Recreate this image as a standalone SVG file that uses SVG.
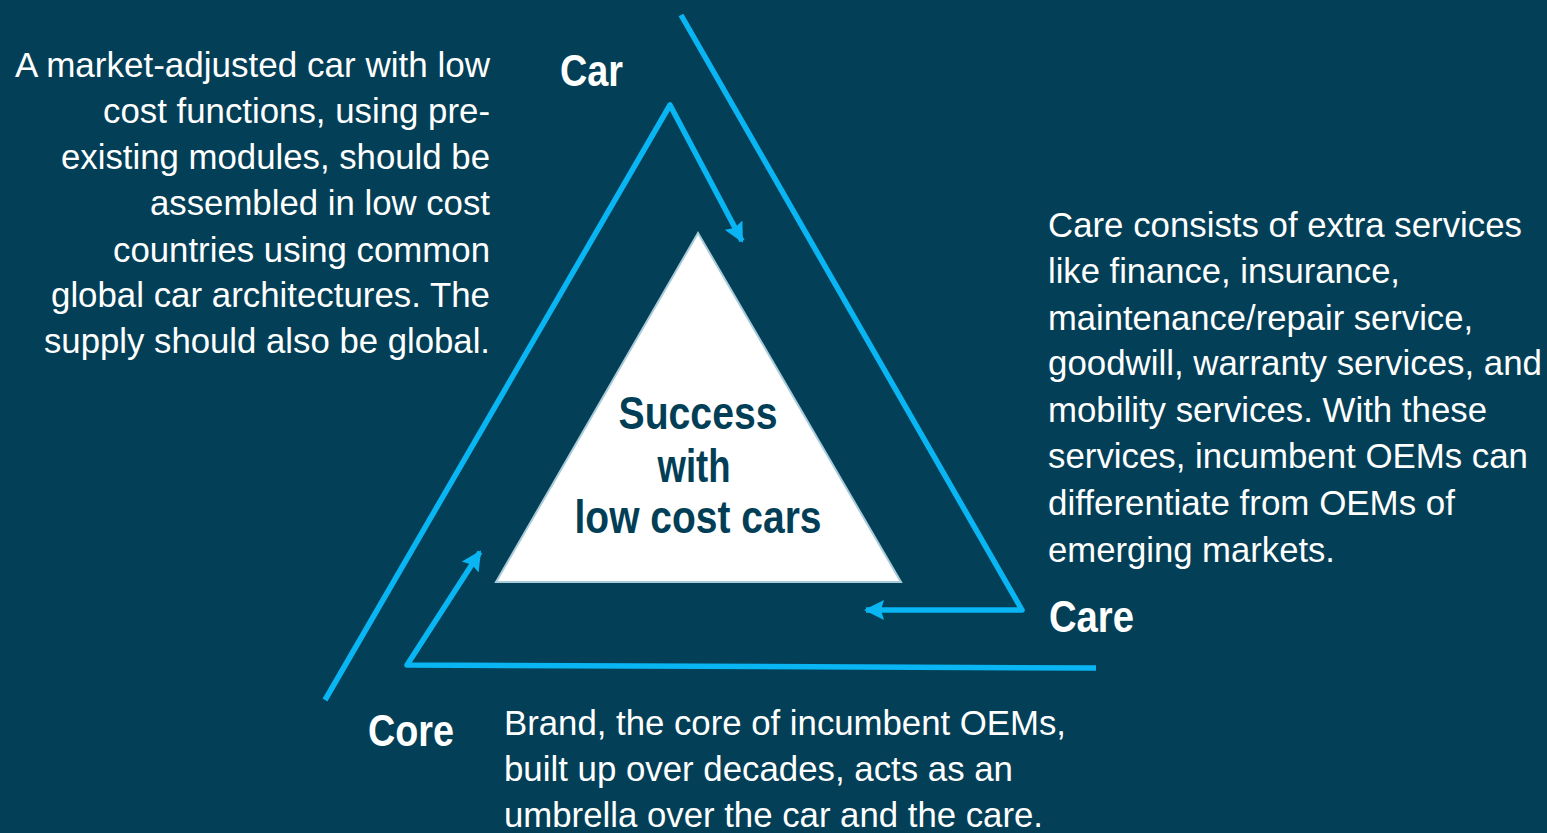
<svg xmlns="http://www.w3.org/2000/svg" width="1547" height="833" viewBox="0 0 1547 833">
  <style>
    .body { font-family: "Liberation Sans", Arial, sans-serif; font-size: 35px; fill: #ffffff; }
    .label { font-family: "Liberation Sans Narrow", "Liberation Sans", Arial, sans-serif; font-size: 45px; font-weight: bold; fill: #ffffff; }
    .center { font-family: "Liberation Sans Narrow", "Liberation Sans", Arial, sans-serif; font-size: 47px; font-weight: bold; fill: #023f57; text-anchor: middle; }
    .conn { fill: none; stroke: #09b5f2; stroke-width: 5.5; stroke-linejoin: round; stroke-linecap: butt; }
  </style>
  <defs>
    <marker id="arrow" viewBox="0 0 20 20" refX="18" refY="10" markerWidth="20" markerHeight="20" markerUnits="userSpaceOnUse" orient="auto">
      <path d="M0,0 L20,10 L0,20 L3,10 z" fill="#09b5f2"/>
    </marker>
  </defs>
  <rect x="0" y="0" width="1547" height="833" fill="#034057"/>

  <g id="connectors">
    <path class="conn" d="M681,15 L1022,610 L866,610" marker-end="url(#arrow)"/>
    <path class="conn" d="M325,700 L670,105 L742,241" marker-end="url(#arrow)"/>
    <path class="conn" d="M1096,668 L407,665 L480,552" marker-end="url(#arrow)"/>
  </g>

  <g id="center-node">
    <polygon points="698,233 496,582 901,582" fill="#ffffff" stroke="#a9cbd9" stroke-width="2"/>
    <text class="center" x="698" y="429" textLength="159" lengthAdjust="spacingAndGlyphs">Success</text>
    <text class="center" x="694" y="482" textLength="73" lengthAdjust="spacingAndGlyphs">with</text>
    <text class="center" x="698" y="533" textLength="247" lengthAdjust="spacingAndGlyphs">low cost cars</text>
  </g>

  <g id="car-label">
    <text class="label" x="560" y="86" textLength="63" lengthAdjust="spacingAndGlyphs">Car</text>
  </g>
  <g id="care-label">
    <text class="label" x="1049" y="632" textLength="85" lengthAdjust="spacingAndGlyphs">Care</text>
  </g>
  <g id="core-label">
    <text class="label" x="368" y="746" textLength="86" lengthAdjust="spacingAndGlyphs">Core</text>
  </g>

  <g id="car-text">
    <text class="body" x="490" y="77" text-anchor="end" textLength="475" lengthAdjust="spacingAndGlyphs">A market-adjusted car with low</text>
    <text class="body" x="490" y="123" text-anchor="end" textLength="387" lengthAdjust="spacingAndGlyphs">cost functions, using pre-</text>
    <text class="body" x="490" y="169" text-anchor="end" textLength="429" lengthAdjust="spacingAndGlyphs">existing modules, should be</text>
    <text class="body" x="490" y="215" text-anchor="end" textLength="340" lengthAdjust="spacingAndGlyphs">assembled in low cost</text>
    <text class="body" x="490" y="262" text-anchor="end" textLength="377" lengthAdjust="spacingAndGlyphs">countries using common</text>
    <text class="body" x="490" y="307" text-anchor="end" textLength="439" lengthAdjust="spacingAndGlyphs">global car architectures. The</text>
    <text class="body" x="490" y="353" text-anchor="end" textLength="446" lengthAdjust="spacingAndGlyphs">supply should also be global.</text>
  </g>

  <g id="care-text">
    <text class="body" x="1048" y="237" textLength="474" lengthAdjust="spacingAndGlyphs">Care consists of extra services</text>
    <text class="body" x="1048" y="283" textLength="352" lengthAdjust="spacingAndGlyphs">like finance, insurance,</text>
    <text class="body" x="1048" y="330" textLength="425" lengthAdjust="spacingAndGlyphs">maintenance/repair service,</text>
    <text class="body" x="1048" y="375" textLength="494" lengthAdjust="spacingAndGlyphs">goodwill, warranty services, and</text>
    <text class="body" x="1048" y="422" textLength="439" lengthAdjust="spacingAndGlyphs">mobility services. With these</text>
    <text class="body" x="1048" y="468" textLength="480" lengthAdjust="spacingAndGlyphs">services, incumbent OEMs can</text>
    <text class="body" x="1048" y="515" textLength="407" lengthAdjust="spacingAndGlyphs">differentiate from OEMs of</text>
    <text class="body" x="1048" y="562" textLength="287" lengthAdjust="spacingAndGlyphs">emerging markets.</text>
  </g>

  <g id="core-text">
    <text class="body" x="504" y="735" textLength="562" lengthAdjust="spacingAndGlyphs">Brand, the core of incumbent OEMs,</text>
    <text class="body" x="504" y="781" textLength="509" lengthAdjust="spacingAndGlyphs">built up over decades, acts as an</text>
    <text class="body" x="504" y="827" textLength="539" lengthAdjust="spacingAndGlyphs">umbrella over the car and the care.</text>
  </g>
</svg>
